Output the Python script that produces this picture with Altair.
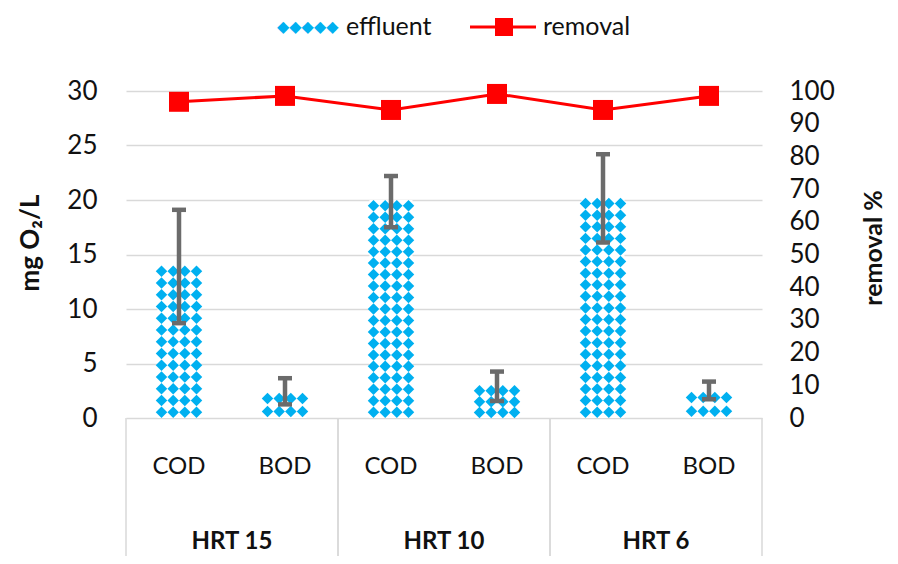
import altair as alt
import pandas as pd

# ---- data ----
groups = ["HRT 15", "HRT 15", "HRT 10", "HRT 10", "HRT 6", "HRT 6"]
params = ["COD", "BOD", "COD", "BOD", "COD", "BOD"]
effluent = [14.0, 2.4, 20.0, 3.0, 20.2, 2.5]
err_low = [8.7, 1.25, 17.5, 1.56, 16.1, 1.72]
err_high = [19.1, 3.65, 22.2, 4.26, 24.2, 3.34]
removal = [96.7, 98.5, 94.2, 99.1, 94.2, 98.5]
group_labels = ["HRT 15", "HRT 10", "HRT 6"]
left_ticks = [0, 5, 10, 15, 20, 25, 30]
right_ticks = [0, 10, 20, 30, 40, 50, 60, 70, 80, 90, 100]

FONT = "Lato"
BLUE = "#00B0F0"
RED = "#FF0000"
GRID = "#D9D9D9"
ERR = "#6B6B6B"
TXT = "#111111"

df = pd.DataFrame({
    "pos": list(range(len(params))),
    "group": groups,
    "param": params,
    "effluent": effluent,
    "lo": err_low,
    "hi": err_high,
    "removal": removal,
})
gdf = pd.DataFrame({"gi": list(range(len(group_labels))), "label": group_labels})

XS = alt.Scale(domain=[0, 6], nice=False, zero=False, padding=0)


def YL():
    return alt.Scale(domain=[0, 30], nice=False, padding=0)


def YR():
    return alt.Scale(domain=[0, 100], nice=False, padding=0)


base = alt.Chart(df).transform_calculate(
    xc="datum.pos + 0.5",
    x0="datum.pos + 0.5 - 0.203",
    x1="datum.pos + 0.5 + 0.203",
    c0="datum.pos + 0.5 - 0.066",
    c1="datum.pos + 0.5 + 0.066",
)

left_axis = alt.Axis(
    values=left_ticks, grid=True, gridColor=GRID, gridWidth=1.5,
    domain=False, ticks=False, labelFontSize=26, labelFont=FONT, labelColor=TXT,
    labelPadding=29, labelOverlap=False, labelFlush=False, title="",
)
right_axis = alt.Axis(
    orient="right", values=right_ticks, grid=False, domain=False,
    ticks=False, labelFontSize=26, labelFont=FONT, labelColor=TXT,
    labelPadding=27, labelOverlap=False, labelFlush=False, title="",
)

bars = base.mark_bar(color="white").encode(
    x=alt.X("x0:Q", scale=XS, axis=None),
    x2="x1:Q",
    y=alt.Y("effluent:Q", scale=YL(), axis=left_axis),
    y2=alt.datum(0),
)

# diamond fill pattern: rows evenly spread so that the pattern reaches the bar top
diamonds = base.transform_calculate(
    nrows="max(1, round(datum.effluent / 1.07))"
).transform_calculate(
    ri="sequence(0, datum.nrows)"
).transform_flatten(["ri"]).transform_calculate(
    ry="(datum.ri + 0.5) * datum.effluent / datum.nrows",
    cols="[-0.165, -0.055, 0.055, 0.165]",
).transform_flatten(["cols"]).transform_calculate(
    dx="datum.xc + datum.cols"
).mark_point(shape="diamond", filled=True, size=132, color=BLUE, opacity=1).encode(
    x=alt.X("dx:Q", scale=XS, axis=None),
    y=alt.Y("ry:Q", scale=YL(), axis=None),
)

err_line = base.mark_rule(color=ERR, strokeWidth=4.5).encode(
    x=alt.X("xc:Q", scale=XS, axis=None),
    y=alt.Y("lo:Q", scale=YL(), axis=None),
    y2="hi:Q",
)
cap_lo = base.mark_rule(color=ERR, strokeWidth=4.5).encode(
    x=alt.X("c0:Q", scale=XS, axis=None), x2="c1:Q",
    y=alt.Y("lo:Q", scale=YL(), axis=None),
)
cap_hi = base.mark_rule(color=ERR, strokeWidth=4.5).encode(
    x=alt.X("c0:Q", scale=XS, axis=None), x2="c1:Q",
    y=alt.Y("hi:Q", scale=YL(), axis=None),
)

seps = alt.Chart(gdf).transform_calculate(
    xl="datum.gi * 2", xr="datum.gi * 2 + 2"
).transform_fold(["xl", "xr"], as_=["side", "xb"]).mark_rule(
    color=GRID, strokeWidth=1.5
).encode(
    x=alt.X("xb:Q", scale=XS, axis=None),
    y=alt.value(327), y2=alt.value(480),
)

cat_text = base.mark_text(fontSize=24, font=FONT, color=TXT).encode(
    x=alt.X("xc:Q", scale=XS, axis=None), y=alt.value(376), text="param:N",
)
grp_text = alt.Chart(gdf).transform_calculate(gx="datum.gi * 2 + 1").mark_text(
    fontSize=24, font=FONT, fontWeight="bold", color=TXT, baseline="alphabetic",
).encode(
    x=alt.X("gx:Q", scale=XS, axis=None), y=alt.value(458), text="label:N",
)

one = pd.DataFrame({"k": [0]})
title_left = alt.Chart(one).mark_text(
    text="mg O₂/L", angle=270, fontSize=26, font=FONT, fontWeight="bold",
    color=TXT, align="center", baseline="middle",
).encode(x=alt.value(-95), y=alt.value(152))
title_right = alt.Chart(one).mark_text(
    text="removal %", angle=270, fontSize=25, font=FONT, fontWeight="bold",
    color=TXT, align="center", baseline="middle",
).encode(x=alt.value(748), y=alt.value(157))

leg_sw = alt.Chart(one).mark_text(
    text="◆◆◆◆◆", fontSize=16, font="DejaVu Sans", color=BLUE,
    align="left", baseline="middle",
).encode(x=alt.value(151), y=alt.value(-64))
leg_t1 = alt.Chart(one).mark_text(
    text="effluent", fontSize=25, font=FONT, color=TXT, align="left", baseline="middle",
).encode(x=alt.value(220), y=alt.value(-64))
leg_line = alt.Chart(one).mark_rule(color=RED, strokeWidth=3).encode(
    x=alt.value(344), x2=alt.value(410), y=alt.value(-64)
)
leg_pt = alt.Chart(one).mark_point(
    shape="square", filled=True, size=324, color=RED, opacity=1
).encode(x=alt.value(378), y=alt.value(-64))
leg_t2 = alt.Chart(one).mark_text(
    text="removal", fontSize=25, font=FONT, color=TXT, align="left", baseline="middle",
).encode(x=alt.value(417), y=alt.value(-64))

line = base.mark_line(color=RED, strokeWidth=3).encode(
    x=alt.X("xc:Q", scale=XS, axis=None),
    y=alt.Y("removal:Q", scale=YR(), axis=right_axis),
)
pts = base.mark_point(shape="square", filled=True, size=400, color=RED, opacity=1).encode(
    x=alt.X("xc:Q", scale=XS, axis=None),
    y=alt.Y("removal:Q", scale=YR(), axis=None),
)

chart = alt.layer(
    bars, diamonds, err_line, cap_lo, cap_hi, seps, cat_text, grp_text,
    title_left, title_right, leg_sw, leg_t1, leg_line, leg_pt, leg_t2,
    line, pts,
).resolve_scale(y="independent").properties(
    width=636, height=327,
    padding={"left": 118, "top": 83, "right": 128, "bottom": 138},
    autosize=alt.AutoSizeParams(type="none"),
).configure_view(stroke=None)

chart.save("out.html", embed_options={"renderer": "svg", "actions": False})
